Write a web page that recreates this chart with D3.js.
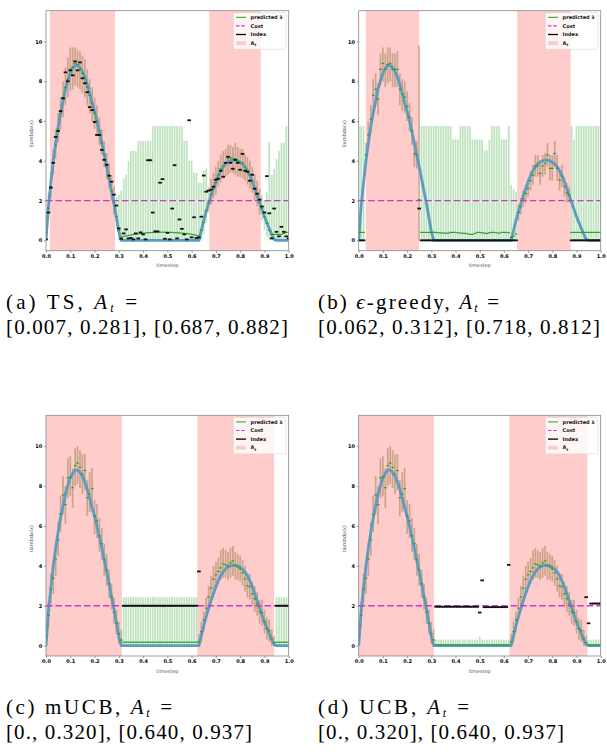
<!DOCTYPE html>
<html>
<head>
<meta charset="UTF-8" />
<script src="https://cdn.jsdelivr.net/npm/d3@7"></script>
<style>
  body { margin: 0; background: #fff; }
  svg text { font-family: "DejaVu Sans", sans-serif; }
  svg text.caption { font-family: "Liberation Serif", "Times New Roman", serif; font-size: 21px; fill: #000; }
</style>
</head>
<body>
<svg id="fig" width="607" height="755"></svg>
<script>
// ---- data ----
const timesteps = [0, 0.01, 0.02, 0.03, 0.04, 0.05, 0.06, 0.07, 0.08, 0.09,
  0.1, 0.11, 0.12, 0.13, 0.14, 0.15, 0.16, 0.17, 0.18, 0.19,
  0.2, 0.21, 0.22, 0.23, 0.24, 0.25, 0.26, 0.27, 0.28, 0.29,
  0.3, 0.31, 0.32, 0.33, 0.34, 0.35, 0.36, 0.37, 0.38, 0.39,
  0.4, 0.41, 0.42, 0.43, 0.44, 0.45, 0.46, 0.47, 0.48, 0.49,
  0.5, 0.51, 0.52, 0.53, 0.54, 0.55, 0.56, 0.57, 0.58, 0.59,
  0.6, 0.61, 0.62, 0.63, 0.64, 0.65, 0.66, 0.67, 0.68, 0.69,
  0.7, 0.71, 0.72, 0.73, 0.74, 0.75, 0.76, 0.77, 0.78, 0.79,
  0.8, 0.81, 0.82, 0.83, 0.84, 0.85, 0.86, 0.87, 0.88, 0.89,
  0.9, 0.91, 0.92, 0.93, 0.94, 0.95, 0.96, 0.97, 0.98, 0.99,
  1.0];

// true lambda(x), same in all four runs
const trueLambda = [0, 1.7, 2.9, 4.0, 4.9, 5.7, 6.4, 7.0, 7.6, 8.05,
  8.4, 8.65, 8.8, 8.8, 8.7, 8.5, 8.2, 7.85, 7.4, 6.9,
  6.5, 6.0, 5.45, 4.9, 4.3, 3.7, 3.1, 2.45, 1.85, 1.15,
  0.45, 0, 0, 0, 0, 0, 0, 0, 0, 0,
  0, 0, 0, 0, 0, 0, 0, 0, 0, 0,
  0, 0, 0, 0, 0, 0, 0, 0, 0, 0,
  0, 0, 0, 0, 0.5, 1.0, 1.45, 1.85, 2.25, 2.6,
  2.95, 3.25, 3.5, 3.7, 3.85, 3.95, 4.0, 4.03, 4.03, 4.0,
  3.93, 3.83, 3.7, 3.5, 3.25, 2.95, 2.6, 2.25, 1.9, 1.55,
  1.2, 0.9, 0.6, 0.3, 0.05, 0, 0, 0, 0, 0,
  0];

const cost = 2;
const xTicks = [0, 0.1, 0.2, 0.3, 0.4, 0.5, 0.6, 0.7, 0.8, 0.9, 1.0];
const yTicks = [0, 2, 4, 6, 8, 10];

// (a) TS
const regionsA = [[0.016, 0.284], [0.673, 0.885]];
const predA = [0.4, 1.6, 2.7, 3.9, 4.8, 5.6, 6.4, 7.1, 7.7, 8.1,
  8.6, 8.7, 8.9, 8.85, 8.6, 8.4, 8.2, 7.7, 7.3, 6.9,
  6.4, 6.0, 5.5, 4.9, 4.3, 3.7, 3.1, 2.5, 1.9, 1.2,
  0.5, 0.15, 0.2, 0.22, 0.25, 0.27, 0.3, 0.32, 0.33, 0.35,
  0.36, 0.37, 0.38, 0.39, 0.4, 0.4, 0.41, 0.41, 0.41, 0.41,
  0.4, 0.4, 0.4, 0.39, 0.38, 0.37, 0.36, 0.35, 0.34, 0.33,
  0.3, 0.28, 0.25, 0.22, 0.5, 0.9, 1.5, 1.9, 2.3, 2.6,
  2.9, 3.3, 3.6, 3.75, 3.9, 4.1, 4.15, 4.1, 4.1, 4.0,
  3.9, 3.9, 3.65, 3.5, 3.3, 3.0, 2.6, 2.3, 1.9, 1.6,
  1.2, 0.85, 0.5, 0.3, 0.3, 0.3, 0.3, 0.3, 0.35, 0.4,
  0.4];
const lowA = [0, 1.0, 2.1, 3.3, 4.1, 4.9, 5.6, 6.2, 6.8, 7.2,
  7.5, 7.6, 7.8, 7.7, 7.6, 7.4, 7.2, 6.8, 6.4, 6.0,
  5.6, 5.3, 4.8, 4.3, 3.7, 3.1, 2.6, 2.0, 1.3, 0.6,
  0, 0, 0, 0, 0, 0, 0, 0, 0, 0,
  0, 0, 0, 0, 0, 0, 0, 0, 0, 0,
  0, 0, 0, 0, 0, 0, 0, 0, 0, 0,
  0, 0, 0, 0, 0, 0.3, 0.9, 1.4, 1.8, 2.1,
  2.3, 2.7, 2.9, 3.1, 3.2, 3.3, 3.4, 3.4, 3.3, 3.2,
  3.2, 3.1, 3.0, 2.8, 2.6, 2.4, 2.0, 1.7, 1.3, 1.0,
  0.5, 0.2, 0, 0, 0, 0, 0, 0, 0, 0,
  0];
const highA = [1.5, 2.4, 3.4, 4.6, 5.6, 6.4, 7.2, 8.0, 8.7, 9.2,
  9.7, 9.7, 9.7, 9.6, 9.5, 9.3, 9.1, 8.6, 8.1, 7.7,
  7.2, 6.8, 6.2, 5.6, 5.0, 4.4, 3.9, 3.3, 2.7, 2.2,
  2.3, 2.5, 3.1, 3.3, 4.0, 4.5, 4.5, 4.5, 5.0, 5.0,
  5.0, 5.0, 5.0, 5.0, 5.75, 5.75, 5.75, 5.75, 5.75, 5.75,
  5.75, 5.75, 5.75, 5.75, 5.75, 5.75, 5.75, 5.0, 5.0, 4.0,
  4.0, 3.4, 3.4, 2.9, 2.9, 3.5, 3.6, 2.7, 3.1, 3.4,
  3.7, 4.0, 4.3, 4.5, 4.6, 4.8, 4.8, 4.7, 4.9, 4.7,
  4.6, 4.6, 4.3, 4.2, 4.0, 3.7, 3.3, 3.0, 2.6, 2.3,
  2.0, 2.4, 4.96, 3.3, 3.6, 4.1, 4.5, 4.9, 4.9, 5.75,
  5.75];
const indexA = [0.05, 1.4, 2.65, 3.9, 5.2, 5.5, 6.5, 7.15, 8.45, 8.0,
  8.55, 8.3, 9.0, 8.55, 8.95, 8.15, 7.9, 7.45, 6.7, 6.55,
  5.95, 5.3, 5.3, 4.55, 4.05, 3.8, 3.25, 2.95, 2.3, 1.75,
  0.6, 0.08, 0.35, 0.55, 0.1, 0.12, 0.05, 0.35, 0.1, 0.4,
  0.3, 0.05, 4.03, 4.03, 1.4, 0.45, 0.45, 2.9, 3.08, 0.08,
  0.38, 0.05, 1.6, 3.78, 0.1, 1.05, 0.58, 0.3, 0.05, 6.04,
  0.15, 1.16, 0.12, 0.15, 1.19, 3.26, 2.45, 2.5, 2.55, 2.7,
  3.05, 3.1, 3.5, 3.2, 3.9, 4.2, 3.9, 3.6, 4.05, 3.9,
  3.55, 4.35, 3.5, 3.45, 3.0, 3.3, 2.6, 2.35, 2.05, 1.7,
  1.4, 3.23, 1.36, 0.1, 1.6, 0.43, 0.2, 0.68, 0.43, 0.2,
  0.1];

// (b) epsilon-greedy
const regionsB = [[0.029, 0.25], [0.655, 0.876]];
const predB = [0.4, 0.4, 0.4, 4.3, 5.3, 6.1, 7.3, 7.6, 7.1, 8.6,
  8.9, 8.6, 8.85, 8.9, 8.6, 8.6, 8.6, 7.6, 7.35, 7.2,
  6.75, 6.2, 5.5, 4.35, 4.3, 2.05, 0.4, 0.4, 0.4, 0.4,
  0.4, 0.4, 0.4, 0.38, 0.37, 0.37, 0.36, 0.36, 0.4, 0.4,
  0.4, 0.38, 0.37, 0.36, 0.35, 0.33, 0.3, 0.3, 0.35, 0.4,
  0.4, 0.38, 0.36, 0.35, 0.38, 0.4, 0.4, 0.38, 0.36, 0.4,
  0.4, 0.4, 0.38, 0.15, 0.2, 0.32, 1.4, 1.69, 2.09, 2.36,
  2.61, 3.0, 3.28, 3.73, 3.75, 3.37, 3.74, 3.87, 4.29, 3.62,
  3.62, 4.37, 3.62, 3.03, 3.23, 2.7, 2.39, 2.3, 0.4, 0.4,
  0.4, 0.4, 0.4, 0.4, 0.4, 0.4, 0.4, 0.4, 0.4, 0.4,
  0.4];
const lowB = [0, 0, 0, 3.8, 4.6, 5.4, 6.5, 6.8, 6.3, 7.8,
  8.0, 7.7, 7.9, 8.0, 7.7, 7.7, 7.7, 6.8, 6.5, 6.4,
  6.0, 5.5, 4.8, 3.7, 3.6, 0, 0, 0, 0, 0,
  0, 0, 0, 0, 0, 0, 0, 0, 0, 0,
  0, 0, 0, 0, 0, 0, 0, 0, 0, 0,
  0, 0, 0, 0, 0, 0, 0, 0, 0, 0,
  0, 0, 0, 0, 0, 0, 1.0, 1.3, 1.7, 1.9,
  2.2, 2.5, 2.8, 3.2, 3.2, 2.8, 3.2, 3.3, 3.7, 3.0,
  3.0, 3.7, 3.0, 2.5, 2.7, 2.2, 1.9, 1.9, 0, 0,
  0, 0, 0, 0, 0, 0, 0, 0, 0, 0,
  0];
const highB = [5.75, 5.75, 5.75, 4.9, 6.0, 6.8, 8.1, 8.4, 7.9, 9.4,
  9.7, 9.4, 9.7, 9.7, 9.4, 9.4, 9.5, 8.4, 8.1, 8.0,
  7.5, 6.9, 6.2, 5.0, 5.0, 9.8, 5.75, 5.75, 5.75, 5.75,
  5.75, 5.75, 5.75, 5.75, 5.75, 5.75, 5.75, 5.75, 5.75, 5.07,
  5.07, 5.07, 5.75, 5.75, 5.75, 5.75, 5.75, 5.07, 5.07, 5.07,
  5.07, 5.07, 4.53, 4.53, 5.07, 5.75, 5.75, 5.75, 5.75, 5.07,
  5.07, 5.07, 5.75, 2.78, 2.6, 2.45, 1.8, 2.1, 2.5, 2.8,
  3.1, 3.5, 3.8, 4.3, 4.3, 3.9, 4.3, 4.4, 4.9, 4.3,
  4.3, 5.0, 4.3, 3.6, 3.8, 3.2, 2.9, 2.7, 5.75, 5.07,
  5.75, 5.75, 5.75, 5.75, 5.75, 5.75, 5.75, 5.75, 5.75, 5.75,
  5.75];
const indexB = [0, 0, 0, null, null, null, null, null, null, null,
  null, null, null, null, null, null, null, null, null, null,
  null, null, null, null, null, 1.6, 0, 0, 0, 0,
  0, 0, 0, 0, 0, 0, 0, 0, 0, 0,
  0, 0, 0, 0, 0, 0, 0, 0, 0, 0,
  0, 0, 0, 0, 0, 0, 0, 0, 0, 0,
  0, 0, 0, 0, 0, 0, null, null, null, null,
  null, null, null, null, null, null, null, null, null, null,
  null, null, null, null, null, null, null, null, 0, 0,
  0, 0, 0, 0, 0, 0, 0, 0, 0, 0,
  0];

// (c) mUCB
const regionsC = [[0, 0.313], [0.624, 0.94]];
const predC = [0.45, 1.52, 2.83, 3.38, 4.34, 5.31, 6.6, 7.55, 7.07, 8.41,
  8.46, 7.92, 9.03, 9.16, 8.94, 8.6, 8.78, 7.42, 7.6, 7.87,
  6.5, 6.26, 5.51, 5.11, 4.3, 3.8, 3.1, 2.43, 1.68, 1.12,
  0.6, 0.28, 0.17, 0.17, 0.17, 0.17, 0.17, 0.17, 0.17, 0.17,
  0.17, 0.17, 0.17, 0.17, 0.17, 0.17, 0.17, 0.17, 0.17, 0.17,
  0.17, 0.17, 0.17, 0.17, 0.17, 0.17, 0.17, 0.17, 0.17, 0.17,
  0.17, 0.17, 0.17, 0.2, 0.7, 1.29, 1.88, 2.43, 2.88, 3.33,
  3.55, 3.72, 3.9, 4.1, 4.05, 4.0, 4.15, 4.25, 4.0, 3.95,
  3.85, 3.65, 3.35, 3.0, 2.95, 2.6, 2.35, 2.1, 1.7, 1.65,
  1.2, 0.85, 0.75, 0.35, 0.15, 0.17, 0.17, 0.17, 0.17, 0.17,
  0.17];
const lowC = [0, 0.9, 2.1, 2.6, 3.5, 4.5, 5.7, 6.6, 6.1, 7.4,
  7.5, 6.9, 8.0, 8.1, 7.9, 7.6, 7.8, 6.5, 6.7, 6.9,
  5.6, 5.4, 4.7, 4.3, 3.5, 3.0, 2.4, 1.8, 1.1, 0.6,
  0.1, 0, 0, 0, 0, 0, 0, 0, 0, 0,
  0, 0, 0, 0, 0, 0, 0, 0, 0, 0,
  0, 0, 0, 0, 0, 0, 0, 0, 0, 0,
  0, 0, 0, 0, 0.2, 0.7, 1.3, 1.8, 2.2, 2.7,
  2.9, 3.1, 3.3, 3.4, 3.4, 3.3, 3.4, 3.5, 3.3, 3.3,
  3.2, 3.0, 2.7, 2.4, 2.3, 2.0, 1.7, 1.5, 1.1, 1.0,
  0.6, 0.3, 0.2, 0, 0, 0, 0, 0, 0, 0,
  0];
const highC = [1.0, 2.2, 3.6, 4.2, 5.2, 6.2, 7.5, 8.5, 8.0, 9.4,
  9.5, 8.9, 9.9, 10.0, 9.8, 9.6, 9.6, 8.3, 8.7, 8.9,
  7.3, 7.1, 6.4, 5.9, 5.1, 4.6, 3.8, 3.1, 2.4, 1.8,
  1.2, 0.8, 2.43, 2.43, 2.43, 2.43, 2.43, 2.43, 2.43, 2.43,
  2.43, 2.43, 2.43, 2.43, 2.43, 2.43, 2.43, 2.43, 2.43, 2.43,
  2.43, 2.43, 2.43, 2.43, 2.43, 2.43, 2.43, 2.43, 2.43, 2.43,
  2.43, 2.43, 2.43, 0.6, 1.2, 1.7, 2.4, 3.0, 3.5, 4.0,
  4.2, 4.4, 4.8, 4.9, 4.8, 4.7, 4.9, 5.0, 4.7, 4.6,
  4.5, 4.3, 4.0, 3.6, 3.6, 3.2, 3.0, 2.7, 2.3, 2.3,
  1.8, 1.4, 1.3, 0.8, 0.5, 2.43, 2.43, 2.43, 2.43, 2.43,
  2.43];
const indexC = [null, null, null, null, null, null, null, null, null, null,
  null, null, null, null, null, null, null, null, null, null,
  null, null, null, null, null, null, null, null, null, null,
  null, null, 2.0, 2.0, 2.0, 2.0, 2.0, 2.0, 2.0, 2.0,
  2.0, 2.0, 2.0, 2.0, 2.0, 2.0, 2.0, 2.0, 2.0, 2.0,
  2.0, 2.0, 2.0, 2.0, 2.0, 2.0, 2.0, 2.0, 2.0, 2.0,
  2.0, 2.0, 2.0, 3.72, null, null, null, null, null, null,
  null, null, null, null, null, null, null, null, null, null,
  null, null, null, null, null, null, null, null, null, null,
  null, null, null, null, null, 2.0, 2.0, 2.0, 2.0, 2.0,
  2.0];

// (d) UCB
const regionsD = [[0, 0.311], [0.623, 0.945]];
const predD = [0.45, 1.52, 2.83, 3.38, 4.34, 5.31, 6.6, 7.55, 7.07, 8.41,
  8.46, 7.92, 9.03, 9.16, 8.94, 8.6, 8.78, 7.42, 7.6, 7.87,
  6.5, 6.26, 5.51, 5.11, 4.3, 3.8, 3.1, 2.43, 1.68, 1.12,
  0.6, 0.28, 0.04, 0.04, 0.04, 0.04, 0.04, 0.04, 0.04, 0.04,
  0.04, 0.04, 0.04, 0.04, 0.04, 0.04, 0.04, 0.04, 0.04, 0.04,
  0.05, 0.04, 0.04, 0.04, 0.04, 0.04, 0.04, 0.04, 0.04, 0.04,
  0.04, 0.04, 0.04, 0.2, 0.7, 1.29, 1.88, 2.43, 2.88, 3.33,
  3.55, 3.72, 3.9, 4.1, 4.05, 4.0, 4.15, 4.25, 4.0, 3.95,
  3.85, 3.65, 3.35, 3.0, 2.95, 2.6, 2.35, 2.1, 1.7, 1.65,
  1.2, 0.85, 0.75, 0.35, 0.15, 0.04, 0.04, 0.04, 0.04, 0.04,
  0.04];
const lowD = [0, 0.9, 2.1, 2.6, 3.5, 4.5, 5.7, 6.6, 6.1, 7.4,
  7.5, 6.9, 8.0, 8.1, 7.9, 7.6, 7.8, 6.5, 6.7, 6.9,
  5.6, 5.4, 4.7, 4.3, 3.5, 3.0, 2.4, 1.8, 1.1, 0.6,
  0.1, 0, 0, 0, 0, 0, 0, 0, 0, 0,
  0, 0, 0, 0, 0, 0, 0, 0, 0, 0,
  0, 0, 0, 0, 0, 0, 0, 0, 0, 0,
  0, 0, 0, 0, 0.2, 0.7, 1.3, 1.8, 2.2, 2.7,
  2.9, 3.1, 3.3, 3.4, 3.4, 3.3, 3.4, 3.5, 3.3, 3.3,
  3.2, 3.0, 2.7, 2.4, 2.3, 2.0, 1.7, 1.5, 1.1, 1.0,
  0.6, 0.3, 0.2, 0, 0, 0, 0, 0, 0, 0,
  0];
const highD = [1.0, 2.2, 3.6, 4.2, 5.2, 6.2, 7.5, 8.5, 8.0, 9.4,
  9.5, 8.9, 9.9, 10.0, 9.8, 9.6, 9.6, 8.3, 8.7, 8.9,
  7.3, 7.1, 6.4, 5.9, 5.1, 4.6, 3.8, 3.1, 2.4, 1.8,
  1.2, 0.8, 0.3, 0.3, 0.3, 0.3, 0.3, 0.3, 0.3, 0.3,
  0.3, 0.3, 0.3, 0.3, 0.3, 0.3, 0.3, 0.3, 0.3, 0.3,
  0.45, 0.3, 0.3, 0.3, 0.3, 0.3, 0.3, 0.3, 0.3, 0.3,
  0.3, 0.3, 0.3, 0.6, 1.2, 1.7, 2.4, 3.0, 3.5, 4.0,
  4.2, 4.4, 4.8, 4.9, 4.8, 4.7, 4.9, 5.0, 4.7, 4.6,
  4.5, 4.3, 4.0, 3.6, 3.6, 3.2, 3.0, 2.7, 2.3, 2.3,
  1.8, 1.4, 1.3, 0.8, 0.5, 0.3, 0.3, 0.3, 0.3, 0.3,
  0.3];
const indexD = [null, null, null, null, null, null, null, null, null, null,
  null, null, null, null, null, null, null, null, null, null,
  null, null, null, null, null, null, null, null, null, null,
  null, null, 1.95, 1.95, 1.95, 1.95, 1.95, 1.95, 1.95, 1.95,
  1.95, 1.95, 1.95, 1.95, 1.95, 1.95, 1.95, 1.95, 1.95, 1.95,
  1.66, 3.27, 1.93, 1.93, 1.93, 1.93, 1.93, 1.93, 1.93, 1.93,
  1.93, 1.93, 4.05, null, null, null, null, null, null, null,
  null, null, null, null, null, null, null, null, null, null,
  null, null, null, null, null, null, null, null, null, null,
  null, null, null, null, 2.43, 1.12, 2.11, 2.11, 2.11, 2.11,
  2.11];

const legendLabels = ["predicted \u03bb", "Cost", "Index", "A"];

// ---- drawing ----
const svg = d3.select("#fig");
const yDomain = [-0.52, 11.55];
const green = "#2ca02c";
const magenta = "#c83cc8";

const panels = [
  { id: "a", left: 46, right: 288.7, top: 10.7, bottom: 250.7, regions: regionsA, pred: predA, low: lowA, high: highA, index: indexA },
  { id: "b", left: 358.7, right: 600.7, top: 10.7, bottom: 250.7, regions: regionsB, pred: predB, low: lowB, high: highB, index: indexB },
  { id: "c", left: 46, right: 288.7, top: 415.3, bottom: 656, regions: regionsC, pred: predC, low: lowC, high: highC, index: indexC },
  { id: "d", left: 358.7, right: 600.7, top: 415.3, bottom: 656, regions: regionsD, pred: predD, low: lowD, high: highD, index: indexD }
];

function drawPanel(p) {
  const g = svg.append("g");
  const x = d3.scaleLinear().domain([0, 1]).range([p.left, p.right]);
  const y = d3.scaleLinear().domain(yDomain).range([p.bottom, p.top]);

  svg.append("clipPath").attr("id", "clip-" + p.id).append("rect")
    .attr("x", p.left).attr("y", p.top)
    .attr("width", p.right - p.left).attr("height", p.bottom - p.top);
  const plot = g.append("g").attr("clip-path", "url(#clip-" + p.id + ")");

  // A_t shading
  plot.selectAll(".region").data(p.regions).join("rect")
    .attr("x", d => x(d[0])).attr("width", d => x(d[1]) - x(d[0]))
    .attr("y", p.top).attr("height", p.bottom - p.top)
    .attr("fill", "#ffcccc");

  const inRegion = t => p.regions.some(r => t >= r[0] && t <= r[1]);
  const pts = timesteps.map((t, i) => ({ t: t, pred: p.pred[i], low: p.low[i], high: p.high[i], idx: p.index[i] }));

  // uncertainty bars
  const barW = 1.7;
  plot.selectAll(".bar").data(pts).join("rect")
    .attr("x", d => x(d.t) - barW / 2).attr("width", barW)
    .attr("y", d => y(d.high)).attr("height", d => y(d.low) - y(d.high))
    .attr("fill", d => inRegion(d.t) ? "rgba(140,115,60,0.45)" : "rgba(44,160,44,0.3)");

  // true lambda
  const line = d3.line().x((d, i) => x(timesteps[i])).y(d => y(d));
  plot.append("path").datum(trueLambda)
    .attr("d", line).attr("fill", "none")
    .attr("stroke", "#5b9cc0").attr("stroke-width", 2.8).attr("stroke-linejoin", "round");

  // cost
  plot.append("line")
    .attr("x1", x(0)).attr("x2", x(1)).attr("y1", y(cost)).attr("y2", y(cost))
    .attr("stroke", magenta).attr("stroke-width", 1.4).attr("stroke-dasharray", "6.5,3");

  // predicted lambda
  plot.selectAll(".pred").data(pts.filter(d => d.pred !== null)).join("rect")
    .attr("x", d => x(d.t) - 1.35).attr("width", 2.7)
    .attr("y", d => y(d.pred) - 0.6).attr("height", 1.2)
    .attr("fill", green);

  // index
  plot.selectAll(".idx").data(pts.filter(d => d.idx !== null)).join("rect")
    .attr("x", d => x(d.t) - 1.8).attr("width", 3.6)
    .attr("y", d => y(d.idx) - 0.9).attr("height", 1.8)
    .attr("fill", "#111");

  // spines
  g.append("rect")
    .attr("x", p.left).attr("y", p.top)
    .attr("width", p.right - p.left).attr("height", p.bottom - p.top)
    .attr("fill", "none").attr("stroke", "#888").attr("stroke-width", 0.8);

  // axes
  const xAxis = g.append("g").attr("transform", "translate(0," + p.bottom + ")")
    .call(d3.axisBottom(x).tickValues(xTicks).tickFormat(d3.format(".1f")).tickSize(2.2).tickPadding(1.5));
  const yAxis = g.append("g").attr("transform", "translate(" + p.left + ",0)")
    .call(d3.axisLeft(y).tickValues(yTicks).tickFormat(d3.format("d")).tickSize(2.2).tickPadding(1.5));
  [xAxis, yAxis].forEach(a => {
    a.select(".domain").remove();
    a.attr("font-size", 5).attr("font-family", "DejaVu Sans").attr("font-weight", "bold");
    a.selectAll("line").attr("stroke", "#666").attr("stroke-width", 0.6);
  });

  g.append("text")
    .attr("x", (p.left + p.right) / 2).attr("y", p.bottom + 16.5)
    .attr("text-anchor", "middle").attr("font-size", 5).attr("fill", "#555")
    .text("timestep");
  g.append("text")
    .attr("transform", "translate(" + (p.left - 13) + "," + ((p.top + p.bottom) / 2 + 3) + ") rotate(-90)")
    .attr("text-anchor", "middle").attr("font-size", 5).attr("fill", "#555")
    .text("\\lambda(x)");

  // legend
  const lg = g.append("g").attr("transform", "translate(" + (p.right - 55.4) + "," + (p.top + 2) + ")");
  lg.append("rect").attr("width", 52.7).attr("height", 36.6).attr("rx", 1.5)
    .attr("fill", "#fff").attr("fill-opacity", 0.8)
    .attr("stroke", "#d4d4d4").attr("stroke-width", 0.6);
  const rowY = [4.6, 13.2, 21.8, 30.4];
  lg.append("line").attr("x1", 2.7).attr("x2", 12.7).attr("y1", rowY[0]).attr("y2", rowY[0])
    .attr("stroke", green).attr("stroke-width", 1);
  lg.append("line").attr("x1", 2.7).attr("x2", 12.7).attr("y1", rowY[1]).attr("y2", rowY[1])
    .attr("stroke", magenta).attr("stroke-width", 1.2).attr("stroke-dasharray", "3.5,1.8");
  lg.append("line").attr("x1", 2.7).attr("x2", 12.7).attr("y1", rowY[2]).attr("y2", rowY[2])
    .attr("stroke", "#000").attr("stroke-width", 1.3);
  lg.append("rect").attr("x", 2.7).attr("y", rowY[3] - 2).attr("width", 10).attr("height", 4)
    .attr("fill", "#ffcccc");
  legendLabels.forEach((lab, i) => {
    const t = lg.append("text").attr("x", 17.3).attr("y", rowY[i] + 1.8)
      .attr("font-size", 5).attr("font-weight", "bold").attr("fill", "#111");
    t.append("tspan").text(lab);
    if (i === 3) t.append("tspan").attr("dy", 1.3).attr("font-size", 3.6).text("t");
  });
}

panels.forEach(drawPanel);

// captions
const captions = [
  { x: 6, y: 309, head: ["(a) TS, "], w1: 131, range: "[0.007, 0.281], [0.687, 0.882]", w2: 282 },
  { x: 318, y: 309, head: ["(b) ", "\u03f5", "-greedy, "], w1: 181, range: "[0.062, 0.312], [0.718, 0.812]", w2: 282 },
  { x: 6, y: 714, head: ["(c) mUCB, "], w1: 166, range: "[0., 0.320], [0.640, 0.937]", w2: 246 },
  { x: 318, y: 714, head: ["(d) UCB, "], w1: 151, range: "[0., 0.320], [0.640, 0.937]", w2: 246 }
];
captions.forEach(c => {
  const t = svg.append("text").attr("class", "caption").attr("x", c.x).attr("y", c.y)
    .attr("textLength", c.w1).attr("lengthAdjust", "spacing");
  c.head.forEach(s => {
    const sp = t.append("tspan").text(s);
    if (s === "\u03f5") sp.attr("font-style", "italic");
  });
  t.append("tspan").attr("font-style", "italic").text("A");
  t.append("tspan").attr("font-style", "italic").attr("font-size", 12).attr("dy", 3).text("t");
  t.append("tspan").attr("dy", -3).text(" =");
  svg.append("text").attr("class", "caption").attr("x", c.x).attr("y", c.y + 24.5)
    .attr("textLength", c.w2).attr("lengthAdjust", "spacing")
    .text(c.range);
});
</script>
</body>
</html>
